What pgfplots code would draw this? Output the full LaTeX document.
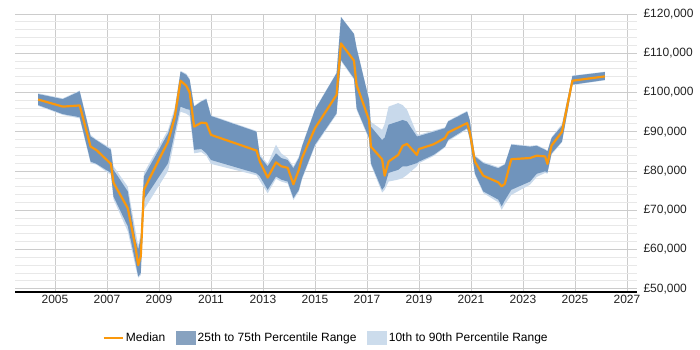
\documentclass[border=0pt]{standalone}
\usepackage{pgfplots}
\pgfplotsset{compat=1.18}
\usepackage{pgfplotstable}
\usepgfplotslibrary{fillbetween}
\usepackage{fontspec}
\setmainfont{Liberation Sans}

\definecolor{medorange}{RGB}{250,152,12}
\definecolor{iqrblue}{RGB}{112,148,188}
\definecolor{decblue}{RGB}{200,217,235}
\definecolor{iqrlegend}{RGB}{135,162,192}
\definecolor{declegend}{RGB}{204,220,236}
\definecolor{majgrid}{RGB}{204,204,204}
\definecolor{mingrid}{RGB}{232,232,232}
\definecolor{labelgray}{RGB}{34,34,34}

% year, 10th, 25th, median, 75th, 90th percentile
\pgfplotstableread{
x       p10     p25     med     p75     p90
2004.35 96600   96800   98200   99600   99800
2005.30 94300   94500   96400   98300   98500
2005.95 93400   93700   96700   100300  100500
2006.37 82000   82400   86200   88800   89200
2006.60 81600   81800   85300   87800   88000
2007.15 79000   79500   81800   85400   85800
2007.25 72800   73500   77000   80300   81200
2007.80 64600   65900   70500   74800   76000
2008.10 55500   56600   60500   62500   64600
2008.20 52800   53100   56000   60000   61000
2008.30 53500   54000   58300   63000   64000
2008.42 70100   72700   75200   78600   79500
2009.35 80000   82000   87500   89600   90500
2009.60 88000   89500   93500   95000   96000
2009.83 95100   96400   103000  105300  105500
2010.05 94600   95800   101700  104500  104800
2010.18 94000   95600   100000  103200  103500
2010.35 84500   85400   91300   96400   96600
2010.63 84800   85600   92300   97700   97900
2010.82 83900   84500   92200   98300   98500
2011.00 81800   82800   89200   94000   94200
2012.75 78900   79400   85200   90000   90200
2012.88 77500   78600   82400   83700   84200
2013.18 74300   75200   78300   81200   81800
2013.50 78000   78600   82200   84500   86700
2013.70 77300   77800   81200   83300   84500
2013.95 76800   77300   80800   82800   83300
2014.17 72600   73100   76600   80700   81200
2014.38 74800   75200   80300   83300   83700
2014.50 77800   78200   83300   86200   86500
2015.00 86300   86700   90900   95600   95800
2015.83 94400   94700   99400   104900  105100
2016.00 108000  108300  112500  119200  119300
2016.50 103300  103600  108100  114900  115000
2016.60 95600   96000   101900  111300  111500
2017.08 88000   88400   93000   98100   98400
2017.15 81600   82000   86200   91300   92500
2017.58 74500   75200   83000   87900   90500
2017.68 75200   76100   78800   88500   92000
2017.83 77300   79500   82400   91800   96400
2018.20 77800   80300   84100   92600   97300
2018.37 78200   81200   86400   93000   96800
2018.54 79000   81200   86900   92600   95600
2018.92 81200   82000   84100   88800   89500
2019.00 82000   82400   85600   88900   89200
2019.56 83800   84100   86800   90000   90300
2020.00 86000   86200   88400   90900   91100
2020.12 87600   87900   89800   92600   92800
2020.85 90600   90900   92200   95100   95300
2020.95 88000   88400   90000   93000   93200
2021.15 79000   79400   82400   83700   84000
2021.47 74400   74800   78800   82000   82300
2022.05 72000   72700   77100   80700   81000
2022.18 70100   71000   76100   81200   81400
2022.30 71500   72500   76700   81600   81800
2022.55 73900   75200   83000   86700   86900
2023.27 76500   77300   83300   86200   86400
2023.53 78500   79300   83900   86400   86600
2023.85 79500   79900   83700   85400   85600
2023.94 79300   79600   81800   85000   85200
2024.10 84200   84500   86500   88400   88600
2024.50 87300   87500   90000   91500   92000
2024.90 101900  102000  103000  104200  104300
2026.15 103100  103200  104100  105200  105300
}\salary

\begin{document}
\begin{tikzpicture}[font=\fontsize{12}{14}\selectfont]
\path (0pt,0pt) rectangle (700pt,350pt);
\begin{axis}[
  at={(15pt,58pt)}, anchor=south west,
  scale only axis, width=622pt, height=278pt,
  xmin=2003.462, xmax=2027.385,
  ymin=49160, ymax=120000,
  scaled y ticks=false, scaled x ticks=false,
  axis x line*=bottom, axis y line*=right,
  x axis line style={draw=black, line width=1.1pt, -},
  y axis line style={draw=none},
  xtick={2005,2007,...,2027},
  xticklabels={2005,2007,2009,2011,2013,2015,2017,2019,2021,2023,2025,2027},
  ytick={50000,60000,...,120000},
  yticklabels={{£50,000},{£60,000},{£70,000},{£80,000},{£90,000},{£100,000},{£110,000},{£120,000}},
  minor ytick={52000,54000,...,118000},
  major tick length=0pt, minor tick length=0pt,
  tick style={draw=none},
  xmajorgrids, ymajorgrids, yminorgrids,
  major grid style={draw=majgrid, line width=0.9pt},
  minor grid style={draw=mingrid, line width=0.9pt},
  yticklabel style={anchor=west, xshift=3pt, text=labelgray},
  xticklabel style={text=labelgray},
  legend style={at={(0.5,-0.1655)}, anchor=center, draw=none, fill=none,
    legend columns=-1, column sep=0pt,
    /tikz/every even column/.append style={column sep=9pt},
    font=\fontsize{12}{14}\selectfont},
  legend cell align=left,
]
\addplot[draw=none, name path=p90, forget plot] table[x=x, y=p90]{\salary};
\addplot[draw=none, name path=p10, forget plot] table[x=x, y=p10]{\salary};
\addplot[draw=none, name path=p75, forget plot] table[x=x, y=p75]{\salary};
\addplot[draw=none, name path=p25, forget plot] table[x=x, y=p25]{\salary};
\addplot[fill=decblue, draw=none, forget plot] fill between[of=p90 and p10];
\addplot[fill=iqrblue, draw=none, forget plot] fill between[of=p75 and p25];
\addplot[medorange, line width=2.2pt, line join=round, forget plot] table[x=x, y=med]{\salary};

\addlegendimage{legend image code/.code={\draw[medorange, line width=2.6pt] (0pt,0pt) -- (19pt,0pt);}}
\addlegendentry{Median}
\addlegendimage{legend image code/.code={\fill[iqrlegend] (0pt,-6.5pt) rectangle (19pt,6.5pt);}}
\addlegendentry{25th to 75th Percentile Range}
\addlegendimage{legend image code/.code={\fill[declegend] (0pt,-6.5pt) rectangle (19pt,6.5pt);}}
\addlegendentry{10th to 90th Percentile Range}
\end{axis}
\end{tikzpicture}
\end{document}
